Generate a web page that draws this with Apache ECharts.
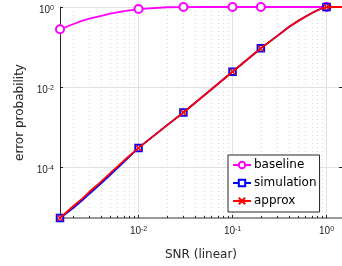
<!DOCTYPE html>
<html>
<head>
<meta charset="utf-8">
<script src="https://cdn.jsdelivr.net/npm/echarts@6.0.0/dist/echarts.min.js"></script>
<style>
  html, body { margin: 0; padding: 0; background: #fff; }
  #main { width: 342px; height: 266px; }
</style>
</head>
<body>
<div id="main"></div>
<script>
'use strict';

// values
const snr = [0.00146, 0.002, 0.0025, 0.003, 0.004, 0.005, 0.007, 0.01, 0.02, 0.03, 0.05, 0.1, 0.2,
  0.3, 0.4, 0.5, 0.6, 0.7, 0.8, 0.9, 1.0, 1.46];
const baseline = [0.277, 0.37, 0.45, 0.51, 0.60, 0.68, 0.79, 0.89, 0.985, 0.996, 1, 1, 1,
  1, 1, 1, 1, 1, 1, 1, 1, 1];
const simulation = [5.3e-6, 9.3e-6, 1.45e-5, 2.15e-5, 3.9e-5, 6.4e-5, 1.35e-4, 3.0e-4, 1.1e-3, 2.3e-3, 6.2e-3, 2.4e-2, 9.3e-2,
  0.19, 0.32, 0.45, 0.58, 0.71, 0.83, 0.93, 1.0, 1.0];
const approx = [5.3e-6, 1.03e-5, 1.6e-5, 2.4e-5, 4.3e-5, 7.0e-5, 1.45e-4, 3.0e-4, 1.1e-3, 2.3e-3, 6.2e-3, 2.4e-2, 9.3e-2,
  0.19, 0.32, 0.45, 0.58, 0.71, 0.83, 0.93, 1.0, 1.0];
const markerIdx = [0, 7, 9, 11, 12, 20];

const xTicks = [0.01, 0.1, 1];
const xMinorTicks = [0.002, 0.003, 0.004, 0.005, 0.006, 0.007, 0.008, 0.009,
  0.02, 0.03, 0.04, 0.05, 0.06, 0.07, 0.08, 0.09,
  0.2, 0.3, 0.4, 0.5, 0.6, 0.7, 0.8, 0.9];
const yTicks = [1e-4, 1e-2, 1];

const xRange = [0.00146, 1.46];
const yRange = [5.31e-6, 1];

const TXT = '#262626';

function pts(vals) {
  return snr.map(function(x, i) {
    const item = {value: [x, vals[i]]};
    if (markerIdx.indexOf(i) < 0) item.symbol = 'none';
    return item;
  });
}

function powLabel(v) {
  const e = Math.round(Math.log10(v));
  return '{b|10}{s|' + e + '}';
}

const powRich = {
  b: {fontFamily: 'Liberation Sans', fontSize: 10, lineHeight: 10, color: TXT, verticalAlign: 'bottom'},
  s: {fontFamily: 'Liberation Sans', fontSize: 7, lineHeight: 7, color: TXT, verticalAlign: 'top', padding: [0, 0, 6, 0]}
};

const myChart = echarts.init(document.getElementById('main'), null, {renderer: 'canvas'});

const option = {
  animation: false,
  backgroundColor: '#fff',
  grid: {left: 60, right: 0, top: 7, bottom: 48, containLabel: false},
  legend: {
    orient: 'vertical',
    left: 228,
    top: 155,
    padding: [4, 3, 5, 4],
    itemWidth: 18,
    itemHeight: 8,
    itemGap: 6,
    borderColor: TXT,
    borderWidth: 1,
    borderRadius: 0,
    backgroundColor: '#fff',
    textStyle: {fontFamily: 'DejaVu Sans', fontSize: 12, color: '#000', padding: [0, 0, 0, -2]},
    data: ['baseline', 'simulation', 'approx']
  },
  xAxis: [
    {
      type: 'log',
      logBase: 10,
      min: xRange[0],
      max: xRange[1],
      name: 'SNR (linear)',
      nameLocation: 'middle',
      nameGap: 31,
      nameTextStyle: {fontFamily: 'DejaVu Sans', fontSize: 12, color: TXT},
      axisLine: {show: true, lineStyle: {color: '#7a7a7a', width: 1.5}},
      axisTick: {show: true, inside: true, length: 3, customValues: xTicks, lineStyle: {color: TXT}},
      axisLabel: {margin: 8, customValues: xTicks, formatter: powLabel, rich: powRich},
      splitLine: {show: true, lineStyle: {color: '#e2e2e2', width: 1}}
    },
    {
      type: 'log',
      logBase: 10,
      min: xRange[0],
      max: xRange[1],
      position: 'bottom',
      axisLine: {show: false},
      axisTick: {show: true, inside: true, length: 2, customValues: xMinorTicks, lineStyle: {color: TXT}},
      axisLabel: {show: false},
      splitLine: {show: true, lineStyle: {color: '#dadada', width: 1, type: [1, 3]}}
    }
  ],
  yAxis: [
    {
      type: 'log',
      logBase: 10,
      min: yRange[0],
      max: yRange[1],
      name: 'error probability',
      nameLocation: 'middle',
      nameGap: 27,
      nameTextStyle: {fontFamily: 'DejaVu Sans', fontSize: 12, color: TXT},
      axisLine: {show: true, lineStyle: {color: TXT, width: 1}},
      axisTick: {show: true, inside: true, length: 3, customValues: yTicks, lineStyle: {color: TXT}},
      axisLabel: {margin: 6, customValues: yTicks, formatter: powLabel, rich: powRich, padding: [6, 0, 0, 0]},
      splitLine: {show: true, lineStyle: {color: '#e2e2e2', width: 1}}
    },
    {
      type: 'log',
      logBase: 10,
      min: yRange[0],
      max: yRange[1],
      position: 'right',
      axisLine: {show: false},
      axisTick: {show: true, inside: true, length: 3, customValues: yTicks, lineStyle: {color: TXT}},
      axisLabel: {show: false},
      splitLine: {show: false}
    }
  ],
  series: [
    {
      name: 'baseline',
      type: 'line',
      clip: false,
      data: pts(baseline),
      symbol: 'emptyCircle',
      symbolSize: 8,
      color: '#ff00ff',
      lineStyle: {width: 1.8, color: '#ff00ff'},
      itemStyle: {color: '#ff00ff', borderWidth: 1.3},
      z: 2
    },
    {
      name: 'simulation',
      type: 'line',
      clip: false,
      data: pts(simulation),
      symbol: 'emptyRect',
      symbolSize: 6.5,
      color: '#0000ff',
      lineStyle: {width: 1.8, color: '#0000ff'},
      itemStyle: {color: '#0000ff', borderWidth: 1.3},
      z: 3
    },
    {
      name: 'approx',
      type: 'line',
      clip: false,
      data: pts(approx),
      symbol: 'path://M0,0L10,10M10,0L0,10',
      symbolSize: 6,
      color: '#ff0000',
      lineStyle: {width: 1.8, color: '#ff0000'},
      itemStyle: {color: '#ff0000', borderColor: '#ff0000', borderWidth: 1.4},
      z: 4
    }
  ]
};

myChart.setOption(option);
</script>
</body>
</html>
